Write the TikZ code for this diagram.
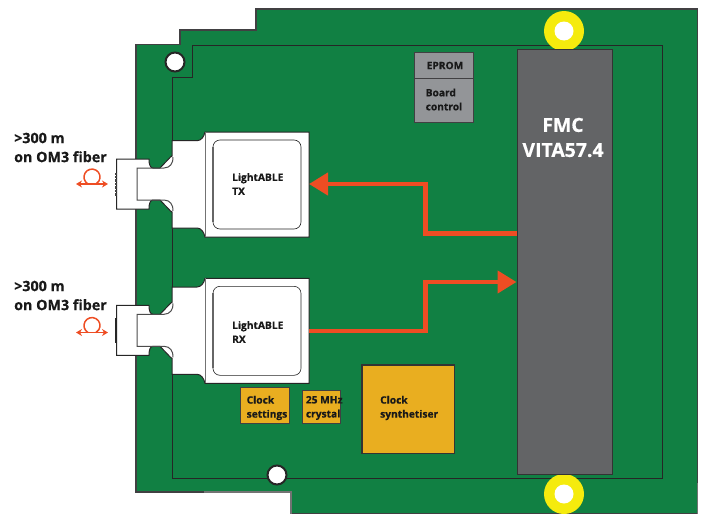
\documentclass[tikz,border=0pt]{standalone}
\usepackage{fontspec}
\setsansfont[BoldFeatures={FakeBold=0.5}]{Open Sans}
\usepackage{tikz}
\usetikzlibrary{arrows.meta, calc}
\definecolor{pcbgreen}{RGB}{17,128,67}
\definecolor{sigorange}{RGB}{238,77,35}
\definecolor{chipgold}{RGB}{233,174,32}
\definecolor{fmcgrey}{RGB}{99,100,102}
\definecolor{romgrey}{RGB}{147,149,152}
\definecolor{padyellow}{RGB}{245,235,13}
\definecolor{edgegrey}{RGB}{65,64,66}

\begin{document}
\begin{tikzpicture}[
  x=1pt, y=-1pt,
  font=\sffamily\bfseries,
  lbl/.style={
    font=\sffamily\bfseries\fontsize{10.2}{14}\selectfont,
    text=black!90,
    align=left,
    anchor=west,
    inner sep=0pt
  },
  fiberlbl/.style={
    font=\sffamily\bfseries\fontsize{14.3}{19}\selectfont,
    text=black!90,
    align=left,
    anchor=west,
    inner sep=0pt
  },
  box/.style={
    draw=edgegrey,
    line width=1pt,
    inner sep=0pt
  },
  chip/.style={box, fill=chipgold},
  rom/.style={box, fill=romgrey},
  hole/.style={
    circle,
    draw=black!85,
    line width=2pt,
    fill=white,
    minimum size=19pt,
    inner sep=0pt
  },
  sig/.style={
    -{Triangle[length=19pt, width=22pt, fill=sigorange]},
    line width=4.4pt,
    draw=sigorange,
    line join=miter
  },
  loopline/.style={
    {Stealth[length=6pt, width=7pt]}-{Stealth[length=6pt, width=7pt]},
    line width=1.5pt,
    draw=sigorange
  }
]
\useasboundingbox (0,0) rectangle (702,514);

\tikzset{
  pics/optomodule/.style={
    code={
      \draw[fill=white, line width=1pt, draw=black!85]
        (116.7,159) -- (149,159) .. controls (149,164) and (150,168) .. (153,168)
        -- (160,168) -- (170.5,157) -- (172,156)
        -- (172,140.7) -- (197,140.7) .. controls (201,140.7) and (204,137) .. (205,132)
        -- (309,132) -- (309,237) -- (205,237)
        .. controls (204,232) and (201,228) .. (197,228)
        -- (172,228) -- (172,212) -- (170.5,211)
        -- (160,200) -- (153,200) .. controls (150,200) and (149,204) .. (149,209)
        -- (116.7,209) -- cycle;
      \draw[line width=1pt, draw=black!55] (205,132) -- (205,237);
      \draw[line width=1pt, draw=black!70]
        (173,157) .. controls (173.5,163) and (170,168) .. (164,168)
        -- (137,168) -- (137,200) -- (164,200)
        .. controls (170,200) and (173.5,205) .. (173,211);
      \draw[line width=0.6pt, draw=black!85, rounded corners=7pt]
        (213,140) rectangle (301,229);
      \draw[line width=1.2pt, draw=black!60] (213,147) -- (213,222);
    }
  }
}

% Carte
\path[fill=pcbgreen, draw=edgegrey, line width=1.1pt]
  (136,492) -- (136,44.5) -- (180,44.5) -- (180,30) -- (256,30) -- (256,9)
  -- (697.5,9) -- (697.5,514) -- (291,514) -- (291,492) -- cycle;
\draw[line width=1.1pt, draw=black!55] (697.5,483) -- (697.5,514);
\draw[line width=1.1pt, draw=black!55] (291,514) -- (291,492) -- (204,492);
\draw[line width=1pt, draw=black!85]
  (172,77) -- (192,77) -- (192,45.5) -- (662,45.5) -- (662,478) -- (172,478) -- cycle;

% Trous
\node[hole] (holetl) at (175,62) {};
\node[hole] (holebl) at (277,475) {};
\fill[padyellow] (564,31) circle (20);
\fill[padyellow] (564,494) circle (20);
\node[circle, fill=white, minimum size=19pt, inner sep=0pt] (padtop) at (564,31) {};
\node[circle, fill=white, minimum size=19pt, inner sep=0pt] (padbot) at (564,494) {};

% FMC
\node[box, fill=fmcgrey, draw=black!80, minimum width=95pt, minimum height=424.5pt] (fmc) at (564.5,261.75) {};
\node[font=\sffamily\bfseries\fontsize{19.4}{25}\selectfont, text=white, align=center, inner sep=0pt] (fmclbl) at (563,137.5) {FMC\\VITA57.4};

% EPROM
\node[rom, minimum width=59pt, minimum height=26pt] (eprom) at (443.5,65) {};
\node[rom, minimum width=59pt, minimum height=44pt] (board) at (443.5,100) {};
\node[lbl] (epromlbl) at (426.5,65.5) {EPROM};
\node[lbl] (boardlbl) at (425.5,99.5) {Board\\control};

% Modules
\pic {optomodule};
\begin{scope}[yshift=-146.3pt]
  \pic {optomodule};
\end{scope}
\coordinate (txeast) at (309,184);
\coordinate (rxeast) at (309,331);
\node[lbl] (txlbl) at (232,184) {LightABLE\\TX};
\node[lbl] (rxlbl) at (232,332) {LightABLE\\RX};

% Bord des fibres
\draw[line width=1.5pt, draw=black!75, dash pattern=on 0.7pt off 0.7pt] (116,173) -- (116,196);
\draw[line width=1.5pt, draw=black!85] (116,318) -- (116,343);

% Horloges
\node[chip, minimum width=48.7pt, minimum height=36pt] (clkset) at (264.7,405.7) {};
\node[chip, minimum width=38pt, minimum height=32.6pt] (xtal) at (321.7,407) {};
\node[chip, line width=1.6pt, draw=black!80, minimum width=92.6pt, minimum height=88.7pt] (synth) at (408,409.3) {};
\node[lbl] (clksetlbl) at (246.5,408) {Clock\\settings};
\node[lbl] (xtallbl) at (305.7,408) {25 MHz\\crystal};
\node[lbl] (synthlbl) at (380,408) {Clock\\synthetiser};

% Signaux
\coordinate (fmctx) at (fmc.west |- 0,233.3);
\coordinate (fmcrx) at (fmc.west |- 0,282);
\draw[sig] (fmctx) -- (425.3,233.3) |- (txeast);
\draw[sig] (rxeast) -- (425.3,331) |- (fmcrx);

% Fibres
\node[fiberlbl] (fibtx) at (14,147.5) {>300 m\\on OM3 fiber};
\node[fiberlbl] (fibrx) at (14,295.5) {>300 m\\on OM3 fiber};
\foreach \name/\ypos in {looptx/184, looprx/332.5} {
  \coordinate (\name) at (92,\ypos);
  \draw[loopline] ([xshift=-16pt]\name) -- ([xshift=16pt]\name);
  \draw[line width=1.5pt, draw=sigorange] ([xshift=-4pt]\name) arc[start angle=240, end angle=-60, radius=8pt];
}
\end{tikzpicture}
\end{document}
